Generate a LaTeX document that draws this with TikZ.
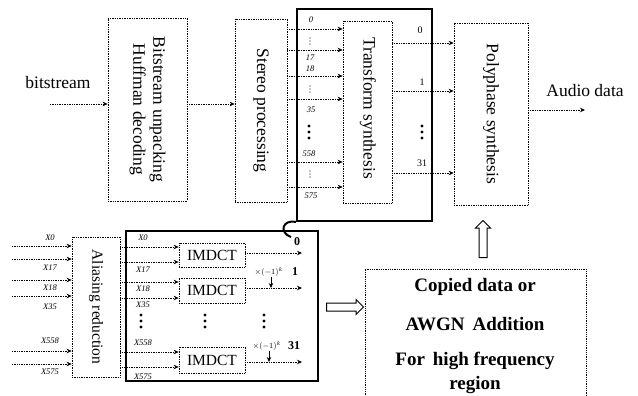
\documentclass[tikz,border=0pt]{standalone}
\usepackage{fontspec}
\setmainfont{Liberation Serif}
\usetikzlibrary{arrows.meta,shapes.arrows}
\begin{document}
\begin{tikzpicture}[x=1pt,y=-1pt,
  dbox/.style={draw,densely dotted,line width=0.7pt,inner sep=0pt},
  bbox/.style={draw,line width=2pt,inner sep=0pt},
  dline/.style={densely dotted,line width=0.7pt,-{Stealth[length=5pt,width=4.5pt]}},
  lbl/.style={font=\fontsize{17.5}{20}\selectfont,inner sep=0pt},
  rlbl/.style={lbl,rotate=-90,align=center},
  slbl/.style={font=\fontsize{15.5}{18}\selectfont,inner sep=0pt},
  idx/.style={font=\itshape\fontsize{8.5}{9}\selectfont,inner sep=0pt},
  oidx/.style={font=\fontsize{10}{11}\selectfont,inner sep=0pt},
  bidx/.style={font=\bfseries\fontsize{12}{13}\selectfont,inner sep=0pt},
  cop/.style={font=\bfseries\fontsize{19}{22}\selectfont,inner sep=0pt},
  hollow/.style={single arrow,draw,line width=1pt,inner xsep=0pt,inner ysep=3.5pt,
    single arrow head extend=3.5pt,minimum height=37pt}
]
\useasboundingbox (0,0) rectangle (638,396);
\clip (0,0) rectangle (638,396);

% ---------- upper chain ----------
\node[lbl] (bslbl) at (58,83) {bitstream};
\coordinate (bsin) at (50,104);
\node[dbox,minimum width=79pt,minimum height=183pt] (bsu) at (147.5,109.5) {};
\node[rlbl] (bsut) at (bsu.center) {Bitstream unpacking\\Huffman decoding};
\draw[dline] (bsin) -- (bsin -| bsu.west);

\node[dbox,minimum width=52pt,minimum height=183pt] (ster) at (261,110.5) {};
\node[rlbl] (stert) at (ster.center) {Stereo processing};
\draw[dline] (bsu.east |- bsin) -- (ster.west |- bsin);

\node[bbox,minimum width=135pt,minimum height=212pt] (grpA) at (364.5,115) {};
\node[dbox,minimum width=49pt,minimum height=182pt] (tsyn) at (367.5,112) {};
\node[rlbl] (tsynt) at (368,108) {Transform synthesis};

\foreach \y [count=\i] in {29,50,76,99,162,187} {
  \coordinate (ti\i) at (0,\y);
  \draw[dline] (ster.east |- ti\i) -- (tsyn.west |- ti\i);
}
\node[idx] (l0) at (311,20) {0};
\node[idx] (l17) at (310,58) {17};
\node[idx] (l18) at (310,69) {18};
\node[idx] (l35) at (311,110) {35};
\node[idx] (l558) at (309,154) {558};
\node[idx] (l575) at (311,196) {575};
% small vertical ellipses
\foreach \yc in {41,89,174} \foreach \dd in {-3,0,3} \fill (310,\yc+\dd) circle (0.6);
% bold vertical ellipses
\foreach \yy in {126,132,138} \fill (309,\yy) circle (1.6);

\node[dbox,minimum width=74pt,minimum height=182pt] (poly) at (491,114) {};
\node[rlbl] (polyt) at (poly.center) {Polyphase synthesis};

\foreach \y [count=\i] in {43,91,173} {
  \coordinate (to\i) at (0,\y);
  \draw[dline] (tsyn.east |- to\i) -- (poly.west |- to\i);
}
\node[oidx] (o0) at (420,30) {0};
\node[oidx] (o1) at (422,82) {1};
\node[oidx] (o31) at (422,163) {31};
\foreach \yy in {126,132,138} \fill (422,\yy) circle (1.6);

\coordinate (aout) at (585,110);
\draw[dline] (poly.east |- aout) -- (aout);
\node[lbl] (audio) at (585,91) {Audio data};

% ---------- lower block ----------
\node[dbox,minimum width=48pt,minimum height=140pt] (alias) at (96,307) {};
\node[slbl,rotate=-90] (aliast) at (alias.center) {Aliasing reduction};

\foreach \y [count=\i] in {246,259,280,296,351,364} {
  \coordinate (ai\i) at (12,\y);
  \draw[dline] (ai\i) -- (ai\i -| alias.west);
}
\node[idx] (a0) at (50,238) {X0};
\node[idx] (a17) at (50,268) {X17};
\node[idx] (a18) at (50,288) {X18};
\node[idx] (a35) at (50,307) {X35};
\node[idx] (a558) at (50,341) {X558};
\node[idx] (a575) at (50,372) {X575};

\node[bbox,minimum width=192pt,minimum height=150pt] (grpB) at (222,306) {};

\node[dbox,minimum width=66pt,minimum height=24pt] (im1) at (212,255) {};
\node[dbox,minimum width=66pt,minimum height=25pt] (im2) at (212,290.5) {};
\node[dbox,minimum width=66pt,minimum height=26pt] (im3) at (212,360) {};
\node[slbl] (im1t) at (im1.center) {IMDCT};
\node[slbl] (im2t) at (im2.center) {IMDCT};
\node[slbl] (im3t) at (im3.center) {IMDCT};

\foreach \y/\b in {247/im1,262/im1,282/im2,298/im2,352/im3,367/im3} {
  \coordinate (ri) at (0,\y);
  \draw[dline] (alias.east |- ri) -- (\b.west |- ri);
}
\node[idx] (b0) at (143,238) {X0};
\node[idx] (b17) at (143,270) {X17};
\node[idx] (b18) at (143,289) {X18};
\node[idx] (b35) at (143,305) {X35};
\node[idx] (b558) at (143,343) {X558};
\node[idx] (b575) at (143,377) {X575};

\coordinate (q1) at (302,253);
\coordinate (q2) at (302,288);
\coordinate (q3) at (302,362);
\draw[dline] (im1.east |- q1) -- (q1);
\draw[dline] (im2.east |- q2) -- (q2);
\draw[dline] (im3.east |- q3) -- (q3);

\foreach \x in {141,205,264} \foreach \yy in {315,321,327} \fill (\x,\yy) circle (1.7);

\node[bidx] (q0l) at (297,242) {0};
\node[bidx] (q1l) at (295,272) {1};
\node[bidx] (q31l) at (294,346) {31};
\node[idx] (f1) at (269,272) {$\times(-1)^k$};
\node[idx] (f2) at (267,346) {$\times(-1)^k$};
\draw[line width=0.7pt,-{Stealth[length=5pt,width=4.5pt]}] (f1.south -| 271,0) -- (271,288);
\draw[line width=0.7pt,-{Stealth[length=5pt,width=4.5pt]}] (f2.south -| 269,0) -- (269,362);

% hook joining the two framed groups
\draw[line width=2pt] (grpA.south west) .. controls (282,219) and (279,233) .. (291,237);

% ---------- high-frequency block ----------
\node[draw,densely dotted,line width=0.8pt,minimum width=221pt,minimum height=140pt,inner sep=0pt] (copb) at (475.5,339) {};
\node[cop] (c1) at (475,287) {Copied data or};
\node[cop] (c2) at (475,324) {AWGN\, Addition};
\node[cop] (c3) at (475,361) {For\, high frequency};
\node[cop] (c4) at (475,385) {region};

\node[hollow] (arrR) at (343,307) {};
\node[hollow,rotate=90] (arrU) at (483,241) {};
\end{tikzpicture}
\end{document}
